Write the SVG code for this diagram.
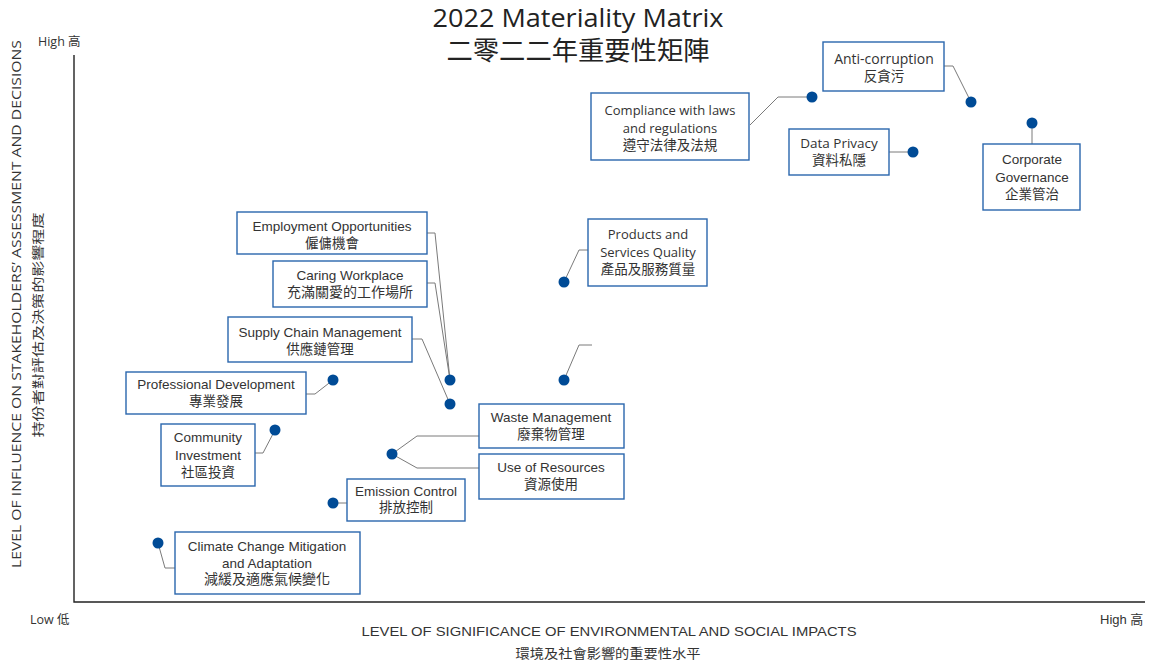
<svg xmlns="http://www.w3.org/2000/svg" width="1150" height="663" viewBox="0 0 1150 663">
<style>
.box{fill:#fff;stroke:#2a66ad;stroke-width:1.4}
.t{font-family:"Liberation Sans","Noto Sans CJK TC",sans-serif;font-size:13.5px;fill:#333;text-anchor:middle}
.f{font-family:"Open Sans","Noto Sans CJK TC",sans-serif;font-size:13px;fill:#333;text-anchor:middle}
.z{font-family:"Liberation Sans","Noto Sans CJK TC",sans-serif;font-size:13.5px;fill:#333;text-anchor:middle}
.c{fill:none;stroke:#7a7a7a;stroke-width:1}
.dot{fill:#004b96}
.ax{font-family:"Open Sans","Noto Sans CJK TC",sans-serif;font-size:12.5px;fill:#333}
.axn{font-family:"Liberation Sans","Noto Sans CJK TC",sans-serif;font-size:13px;fill:#333}
</style>
<rect width="1150" height="663" fill="#fff"/>
<g id="title">
<text x="578" y="27" font-family="Open Sans,Noto Sans CJK TC,sans-serif" font-size="26" fill="#222" text-anchor="middle" textLength="291" lengthAdjust="spacingAndGlyphs">2022 Materiality Matrix</text>
<text x="578" y="60" font-family="Liberation Sans,Noto Sans CJK TC,sans-serif" font-size="26" fill="#222" text-anchor="middle" textLength="263" lengthAdjust="spacingAndGlyphs">二零二二年重要性矩陣</text>
</g>
<g id="axes">
<path d="M74,55 V602 H1145" fill="none" stroke="#222" stroke-width="1.4"/>
<text class="ax" x="38" y="46">High 高</text>
<text class="ax" x="30" y="624">Low 低</text>
<text class="axn" x="1100" y="624">High 高</text>
<text class="axn" x="609" y="636" text-anchor="middle" textLength="495" lengthAdjust="spacingAndGlyphs">LEVEL OF SIGNIFICANCE OF ENVIRONMENTAL AND SOCIAL IMPACTS</text>
<text class="axn" x="608" y="658" text-anchor="middle" textLength="185" lengthAdjust="spacingAndGlyphs">環境及社會影響的重要性水平</text>
<text class="ax" transform="translate(21,304) rotate(-90)" text-anchor="middle" textLength="528" lengthAdjust="spacingAndGlyphs">LEVEL OF INFLUENCE ON STAKEHOLDERS’ ASSESSMENT AND DECISIONS</text>
<text class="ax" transform="translate(43,325) rotate(-90)" text-anchor="middle" textLength="225" lengthAdjust="spacingAndGlyphs">持份者對評估及決策的影響程度</text>
</g>
<g id="connectors">
<polyline class="c" points="944,66 953,66 971,102"/>
<polyline class="c" points="750,125 778,97 812,97"/>
<polyline class="c" points="889,152 913,152"/>
<polyline class="c" points="1032,123 1032,144"/>
<polyline class="c" points="564,282 579,250 588,250"/>
<polyline class="c" points="564,380 579,345 592,345"/>
<polyline class="c" points="427,233 435,233 450,380"/>
<polyline class="c" points="427,283 435,283 450,380"/>
<polyline class="c" points="412,339 422,339 450,404"/>
<polyline class="c" points="306,394 315,394 333,380"/>
<polyline class="c" points="255,453 263,453 275,430"/>
<polyline class="c" points="392,454 417,436 479,436"/>
<polyline class="c" points="392,454 417,468 479,468"/>
<polyline class="c" points="333,503 347,503"/>
<polyline class="c" points="158,543 165,568 175,568"/>
</g>
<g id="dots">
<circle class="dot" cx="812" cy="97" r="5.5"/>
<circle class="dot" cx="971" cy="102" r="5.5"/>
<circle class="dot" cx="913" cy="152" r="5.5"/>
<circle class="dot" cx="1032" cy="123" r="5.5"/>
<circle class="dot" cx="564" cy="282" r="5.5"/>
<circle class="dot" cx="564" cy="380" r="5.5"/>
<circle class="dot" cx="450" cy="380" r="5.5"/>
<circle class="dot" cx="450" cy="404" r="5.5"/>
<circle class="dot" cx="333" cy="380" r="5.5"/>
<circle class="dot" cx="275" cy="430" r="5.5"/>
<circle class="dot" cx="392" cy="454" r="5.5"/>
<circle class="dot" cx="333" cy="503" r="5.5"/>
<circle class="dot" cx="158" cy="543" r="5.5"/>
</g>
<g id="anti-corruption">
<rect class="box" x="823" y="42" width="121" height="49"/>
<text class="f" x="884" y="64" style="font-size:14px">Anti-corruption</text>
<text class="z" x="884" y="81">反貪污</text>
</g>
<g id="compliance">
<rect class="box" x="591" y="93" width="158" height="67"/>
<text class="f" x="670" y="115">Compliance with laws</text>
<text class="f" x="670" y="133">and regulations</text>
<text class="z" x="670" y="150">遵守法律及法規</text>
</g>
<g id="data-privacy">
<rect class="box" x="789" y="129" width="100" height="46"/>
<text class="f" x="839" y="148" style="font-size:13.5px">Data Privacy</text>
<text class="z" x="839" y="165">資料私隱</text>
</g>
<g id="corporate-governance">
<rect class="box" x="983" y="144" width="97" height="66"/>
<text class="t" x="1032" y="164">Corporate</text>
<text class="t" x="1032" y="182">Governance</text>
<text class="z" x="1032" y="199">企業管治</text>
</g>
<g id="products">
<rect class="box" x="588" y="219" width="119" height="67"/>
<text class="f" x="648" y="239">Products and</text>
<text class="f" x="648" y="257">Services Quality</text>
<text class="z" x="648" y="274">產品及服務質量</text>
</g>
<g id="employment">
<rect class="box" x="237" y="212" width="190" height="42"/>
<text class="t" x="332" y="231">Employment Opportunities</text>
<text class="z" x="332" y="248">僱傭機會</text>
</g>
<g id="caring-workplace">
<rect class="box" x="273" y="261" width="154" height="46"/>
<text class="t" x="350" y="280">Caring Workplace</text>
<text class="z" x="350" y="297" style="font-size:14px">充滿關愛的工作場所</text>
</g>
<g id="supply-chain">
<rect class="box" x="228" y="317" width="184" height="45"/>
<text class="t" x="320" y="337">Supply Chain Management</text>
<text class="z" x="320" y="354">供應鏈管理</text>
</g>
<g id="professional-development">
<rect class="box" x="126" y="372" width="180" height="42"/>
<text class="t" x="216" y="389">Professional Development</text>
<text class="z" x="216" y="406">專業發展</text>
</g>
<g id="community-investment">
<rect class="box" x="161" y="424" width="94" height="62"/>
<text class="t" x="208" y="442">Community</text>
<text class="t" x="208" y="460">Investment</text>
<text class="z" x="208" y="477">社區投資</text>
</g>
<g id="waste-management">
<rect class="box" x="479" y="404" width="145" height="44"/>
<text class="t" x="551" y="422">Waste Management</text>
<text class="z" x="551" y="439">廢棄物管理</text>
</g>
<g id="use-of-resources">
<rect class="box" x="479" y="454" width="145" height="45"/>
<text class="t" x="551" y="472">Use of Resources</text>
<text class="z" x="551" y="489">資源使用</text>
</g>
<g id="emission-control">
<rect class="box" x="347" y="479" width="118" height="42"/>
<text class="t" x="406" y="496">Emission Control</text>
<text class="z" x="406" y="512">排放控制</text>
</g>
<g id="climate-change">
<rect class="box" x="175" y="532" width="185" height="62"/>
<text class="t" x="267" y="551">Climate Change Mitigation</text>
<text class="t" x="267" y="568">and Adaptation</text>
<text class="z" x="267" y="584" style="font-size:14px">減緩及適應氣候變化</text>
</g>
</svg>
